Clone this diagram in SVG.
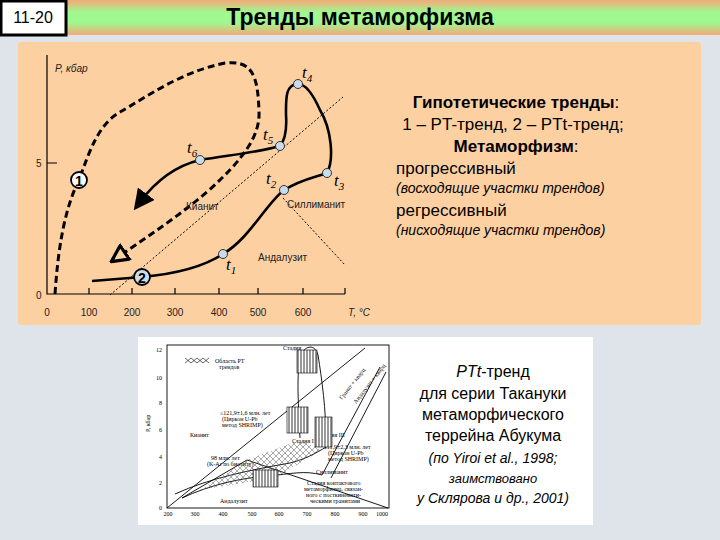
<svg xmlns="http://www.w3.org/2000/svg" width="720" height="540" viewBox="0 0 720 540">
<defs>
<linearGradient id="hdr" x1="0" y1="0" x2="0" y2="1">
<stop offset="0" stop-color="#f4a878"/><stop offset="0.35" stop-color="#a0f890"/><stop offset="0.65" stop-color="#a0f890"/><stop offset="1" stop-color="#f4a878"/>
</linearGradient>
<pattern id="vh" width="3" height="6" patternUnits="userSpaceOnUse"><rect width="3" height="6" fill="#fff"/><line x1="1" y1="0" x2="1" y2="6" stroke="#000" stroke-width="0.8"/></pattern>
<pattern id="xh" width="6" height="6" patternUnits="userSpaceOnUse"><path d="M0 0L6 6M6 0L0 6" stroke="#555" stroke-width="0.5"/></pattern>
<marker id="fa" viewBox="0 0 10 10" refX="5" refY="5" markerWidth="8" markerHeight="8" orient="auto"><path d="M0 0L10 5L0 10z" fill="#000"/></marker>
<marker id="oa" viewBox="0 0 12 12" refX="6" refY="6" markerWidth="6.5" markerHeight="6.5" orient="auto"><path d="M1 1L11 6L1 11z" fill="#fcd2a4" stroke="#000" stroke-width="2"/></marker>
</defs>
<style>
text{font-family:"Liberation Sans",Arial,sans-serif;fill:#000}
.ax{stroke:#000;stroke-width:1.2;fill:none}
.sm{font-size:10px;fill:#222}
.pt{fill:#c8dcec;stroke:#333;stroke-width:1}
.tl{font-size:17px;font-style:italic;font-family:"Liberation Serif",serif}
.mini text{font-family:"Liberation Serif",serif;font-size:6px}
.ml{stroke:#000;stroke-width:0.9;fill:none}
</style>
<rect width="720" height="540" fill="#dfe3ea"/>
<rect x="0" y="0" width="720" height="35" fill="url(#hdr)"/>
<rect x="1" y="1" width="65" height="34" fill="#fff" stroke="#000" stroke-width="3"/>
<text x="33" y="23" font-size="16" text-anchor="middle">11-20</text>
<text x="360" y="25" font-size="23" font-weight="bold" text-anchor="middle">Тренды метаморфизма</text>
<rect x="18" y="42" width="683" height="283" fill="#fdd0a2" rx="3"/>

<g id="axes">
<path class="ax" d="M47 55V294H345"/>
<path class="ax" d="M47 163H57M89 288V294M132 288V294M175 288V294M219 288V294M258 288V294M303 288V294M345 288V294"/>
<text x="55" y="72" class="sm" font-style="italic">P, кбар</text>
<text x="36" y="167" class="sm">5</text><text x="36" y="299" class="sm">0</text>
<text x="47" y="316" class="sm" text-anchor="middle">0</text>
<text x="89" y="316" class="sm" text-anchor="middle">100</text>
<text x="132" y="316" class="sm" text-anchor="middle">200</text>
<text x="175" y="316" class="sm" text-anchor="middle">300</text>
<text x="219" y="316" class="sm" text-anchor="middle">400</text>
<text x="258" y="316" class="sm" text-anchor="middle">500</text>
<text x="303" y="316" class="sm" text-anchor="middle">600</text>
<text x="348" y="316" class="sm" font-style="italic">T, °C</text>
</g>
<g id="connectors">
<path d="M110 295L343 97" stroke="#000" stroke-width="1" stroke-dasharray="2 2" fill="none"/>
<path d="M283 198L345 265" stroke="#000" stroke-width="1" stroke-dasharray="2 2" fill="none"/>
<path d="M55 294C58 250 64 210 79 180C90 150 98 125 120 112C145 98 180 72 225 63C252 60 258 75 259 112C260 135 245 158 207 192C180 215 150 235 118 257" stroke="#000" stroke-width="3" stroke-dasharray="7 4" fill="none" marker-end="url(#oa)"/>
<path d="M92 281L142 277C175 274 205 266 223 254C250 238 265 205 284 190C300 180 312 178 327 173C334 160 332 130 320 110C312 92 305 84 298 84C285 84 286 100 286 115C287 130 285 140 280 146C260 152 230 155 200 160C175 166 155 182 140 202" stroke="#000" stroke-width="2.6" fill="none" marker-end="url(#fa)"/>
</g>
<g id="points">
<circle class="pt" cx="298" cy="84" r="4.5"/><circle class="pt" cx="280" cy="146" r="4.5"/>
<circle class="pt" cx="200" cy="160" r="4.5"/><circle class="pt" cx="327" cy="173" r="4.5"/>
<circle class="pt" cx="284" cy="190" r="4.5"/><circle class="pt" cx="223" cy="254" r="4.5"/>
<circle cx="79" cy="180" r="8" fill="#fff" stroke="#000" stroke-width="1.8"/>
<text x="79" y="186" font-size="14" font-weight="bold" text-anchor="middle">1</text>
<circle cx="142" cy="277" r="8" fill="#c8dcec" stroke="#000" stroke-width="1.8"/>
<text x="142" y="283" font-size="14" font-weight="bold" text-anchor="middle">2</text>
<text class="tl" x="302" y="78">t<tspan font-size="11" dy="4">4</tspan></text>
<text class="tl" x="263" y="140">t<tspan font-size="11" dy="4">5</tspan></text>
<text class="tl" x="187" y="153">t<tspan font-size="11" dy="4">6</tspan></text>
<text class="tl" x="266" y="184">t<tspan font-size="11" dy="4">2</tspan></text>
<text class="tl" x="334" y="186">t<tspan font-size="11" dy="4">3</tspan></text>
<text class="tl" x="226" y="270">t<tspan font-size="11" dy="4">1</tspan></text>
<text x="186" y="210" class="sm">Кианит</text>
<text x="287" y="208" class="sm">Силлиманит</text>
<text x="258" y="261" class="sm">Андалузит</text>
</g>
<g id="legend" font-size="17">
<text x="516" y="108" text-anchor="middle"><tspan font-weight="bold">Гипотетические тренды</tspan>:</text>
<text x="513" y="130" text-anchor="middle">1 – PT-тренд, 2 – PTt-тренд;</text>
<text x="516" y="152" text-anchor="middle"><tspan font-weight="bold">Метаморфизм</tspan>:</text>
<text x="396" y="174">прогрессивный</text>
<text x="396" y="193" font-size="14" font-style="italic">(восходящие участки трендов)</text>
<text x="396" y="216">регрессивный</text>
<text x="396" y="235" font-size="14" font-style="italic">(нисходящие участки трендов)</text>
</g>

<rect x="138" y="337" width="455" height="188" fill="#fff"/>
<g id="mini" class="mini">
<rect x="167" y="345" width="222" height="163" class="ml"/>
<text x="162" y="352" text-anchor="end">12</text><text x="162" y="380" text-anchor="end">10</text>
<text x="162" y="405" text-anchor="end">8</text><text x="162" y="432" text-anchor="end">6</text>
<text x="162" y="459" text-anchor="end">4</text><text x="162" y="485" text-anchor="end">2</text>
<text x="162" y="510" text-anchor="end">0</text>
<text x="168" y="516" text-anchor="middle">200</text><text x="195" y="516" text-anchor="middle">300</text>
<text x="223" y="516" text-anchor="middle">400</text><text x="252" y="516" text-anchor="middle">500</text>
<text x="279" y="516" text-anchor="middle">600</text><text x="307" y="516" text-anchor="middle">700</text>
<text x="335" y="516" text-anchor="middle">800</text><text x="363" y="516" text-anchor="middle">900</text>
<text x="382" y="516" text-anchor="middle">1000</text>
<text transform="translate(150 432) rotate(-90)">P, кбар</text>
<text x="215" y="363">Область PT</text><text x="219" y="369">трендов</text>
<text x="190" y="437">Кианит</text>
<text x="211" y="460">98 млн. лет</text><text x="207" y="466">(K-Ar по биотиту)</text>
<text x="220" y="415">≤121,9±1,6 млн. лет</text><text x="222" y="421">(Циркон U-Pb</text><text x="222" y="427">метод SHRIMP)</text>
<text x="292" y="443">Стадия I</text><text x="319" y="437">Стадия III</text>
<text x="324" y="449">111,9±2,3 млн. лет</text><text x="328" y="455">(Циркон U-Pb</text><text x="328" y="461">метод SHRIMP)</text>
<text x="316" y="474">Силлиманит</text>
<text x="307" y="485">Стадия контактового</text><text x="304" y="491">метаморфизма, связан-</text><text x="306" y="497">ного с посткинемати-</text><text x="310" y="503">ческими гранитами</text>
<text x="220" y="503">Андалузит</text>
<text x="283" y="350">Стадия</text>
<text transform="translate(342 400) rotate(-52)">Гранат + кварц</text>
<text transform="translate(356 404) rotate(-52)">Андалузит + кварц</text>
<path class="ml" d="M167 508L365 348M247 460L388 508M182 498L247 460"/>
<path class="ml" d="M322 475L380 367M331 478L386 372"/>
<path class="ml" d="M300 438C298 400 296 365 302 352C308 345 315 345 318 355C322 380 326 410 326 440"/>
<path class="ml" d="M182 498C210 485 240 478 268 476C290 474 305 470 322 475M175 494C210 478 250 470 290 463C310 458 320 450 330 445"/>
<path d="M200 490L247 460L300 440L322 450L275 478z" fill="url(#xh)" stroke="none"/>
<rect x="287" y="407" width="21" height="26" fill="url(#vh)" stroke="#000" stroke-width="0.6"/>
<rect x="315" y="417" width="17" height="30" fill="url(#vh)" stroke="#000" stroke-width="0.6"/>
<rect x="253" y="470" width="25" height="17" fill="url(#vh)" stroke="#000" stroke-width="0.6"/>
<rect x="297" y="350" width="20" height="23" fill="url(#vh)" stroke="#000" stroke-width="0.6"/>
<path d="M185 363l6 -5l6 5l6 -5l6 5M185 358l6 5l6 -5l6 5l6 -5" stroke="#000" stroke-width="0.6" fill="none"/>
</g>
<g id="caption" font-size="16" text-anchor="middle">
<text x="493" y="377"><tspan font-style="italic">PTt</tspan>-тренд</text>
<text x="493" y="399">для серии Такануки</text>
<text x="493" y="420">метаморфического</text>
<text x="493" y="441">террейна Абукума</text>
<text x="493" y="463" font-size="14" font-style="italic">(по Yiroi et al., 1998;</text>
<text x="493" y="483" font-size="13" font-style="italic">заимствовано</text>
<text x="493" y="503" font-size="14" font-style="italic">у Склярова и др., 2001)</text>
</g>
</svg>
